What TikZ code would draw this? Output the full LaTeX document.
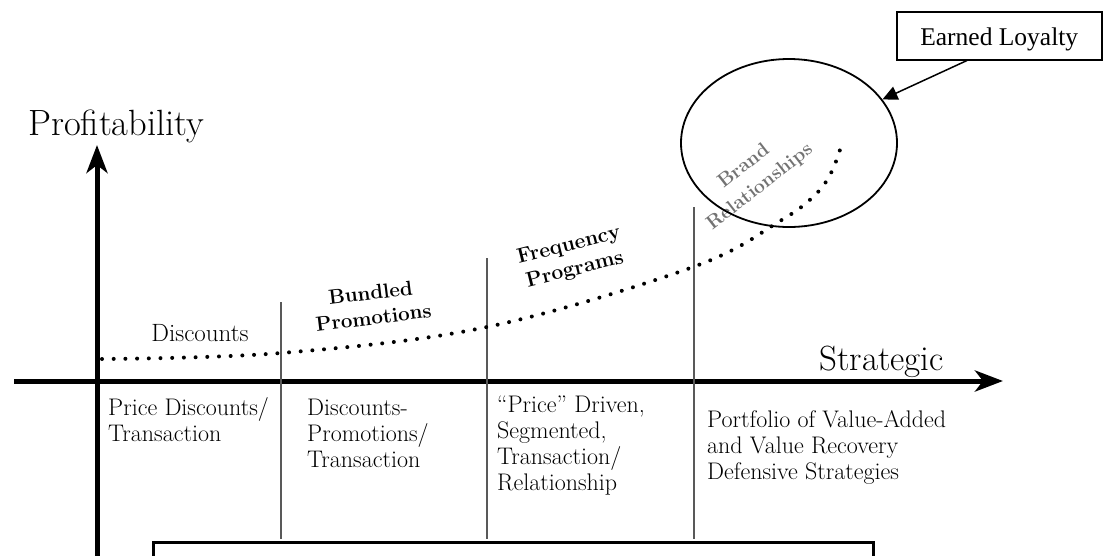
\documentclass[tikz,border=0pt]{standalone}
\usepackage{fontspec}
\newfontfamily\boxfont{Liberation Serif}
\usetikzlibrary{arrows.meta, shapes.geometric, calc}

\tikzset{
  axis/.style={line width=5pt, -{Stealth[length=28pt, width=21pt, inset=8pt]}},
  divider/.style={line width=1.8pt, black!65},
  trend/.style={line width=4pt, line cap=round, dash pattern=on 0pt off 11.7pt},
  stage/.style={anchor=north west, inner sep=0pt, align=left, font=\fontsize{24}{26}\selectfont},
  phase/.style={inner sep=0pt, align=center, font=\bfseries\fontsize{20.5}{25}\selectfont},
}

\begin{document}
\begin{tikzpicture}[x=1pt, y=-1pt]
  \useasboundingbox (0,0) rectangle (1104,555);
  \clip (0,0) rectangle (1104,555);
  % Axes
  \draw[axis] (97,575) -- (97,145);
  \draw[axis] (14,381) -- (1003,381);
  \node[anchor=base west, inner sep=0pt, font=\fontsize{36.5}{40}\selectfont] (profit) at (28,135) {Profitability};
  \node[anchor=base east, inner sep=0pt, font=\fontsize{35}{38}\selectfont] (strat) at (944,370) {Strategic};
  % Stage separators
  \foreach \x/\ytop in {281/302, 487/258, 694/207}
    \draw[divider] (\x,\ytop) -- (\x,539);
  % Profitability trend
  \draw[trend] plot[smooth, tension=0.6] coordinates
    {(102,359) (281,353) (487,327) (693,267) (780,221) (815,195) (832,171) (843,140)};
  % Labels above the axis
  \node[inner sep=0pt, font=\fontsize{25}{28}\selectfont] (disc) at (200,333) {Discounts};
  \node[phase, rotate=7] (bundled) at (372,305) {Bundled\\Promotions};
  \node[phase, rotate=14, font=\bfseries\fontsize{21}{25}\selectfont] (freq) at (572,258) {Frequency\\Programs};
  \node[phase, rotate=38, text=black!55, font=\bfseries\fontsize{19.5}{26}\selectfont] (brandtxt) at (752,177) {Brand\\Relationships};
  % Labels below the axis
  \node[stage] (s1) at (108,397) {Price Discounts/\\Transaction};
  \node[stage] (s2) at (307,399) {Discounts-\\Promotions/\\Transaction};
  \node[stage] (s3) at (497,396) {``Price'' Driven,\\Segmented,\\Transaction/\\Relationship};
  \node[stage] (s4) at (707,410) {Portfolio of Value-Added\\and Value Recovery\\Defensive Strategies};
  % Earned loyalty callout
  \node[draw, ellipse, line width=1.8pt, minimum width=216pt, minimum height=168pt, inner sep=0pt] (brand) at (789,143) {};
  \node[draw, line width=1.5pt, anchor=north west, minimum width=205pt, text height=34pt, text depth=14pt,
        inner ysep=0pt, font=\boxfont\fontsize{25.5}{28}\selectfont] (loyalty) at (896,11) {Earned Loyalty};
  \draw[line width=1.5pt, -{Triangle[length=15pt, width=14pt]}] ($(loyalty.south west)+(71,0)$) -- (brand.25);
  % Caption box (cut off)
  \node[draw, line width=2.5pt, anchor=north west, minimum width=720pt, minimum height=60pt] (caption) at (152,541) {};
\end{tikzpicture}
\end{document}
